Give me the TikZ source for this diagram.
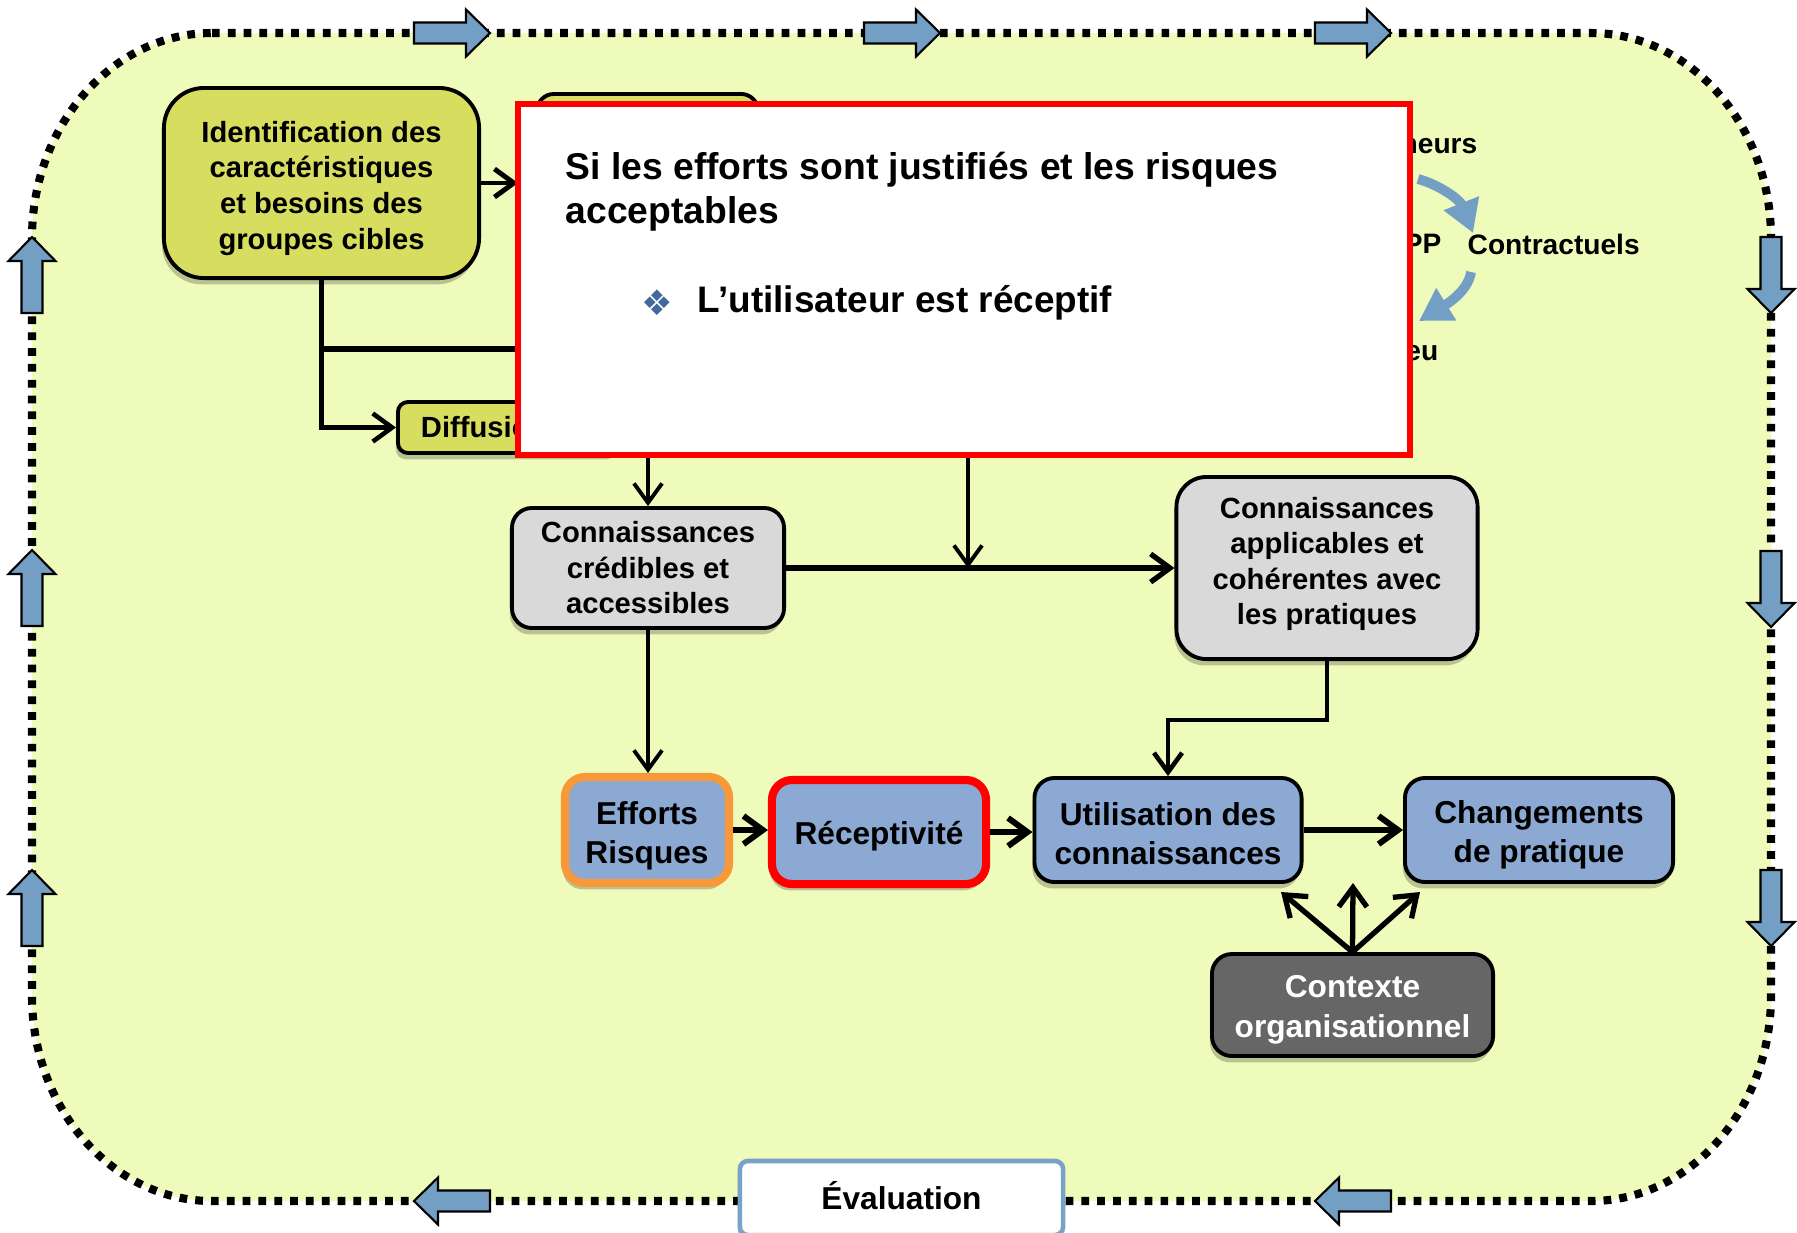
\documentclass[tikz,border=0pt]{standalone}
\usepackage{fontspec}
\setmainfont{Liberation Sans}
\newfontfamily\dejavu{DejaVu Sans}
\usetikzlibrary{arrows.meta,shadows}
\definecolor{bgc}{RGB}{238,251,186}
\definecolor{olive}{RGB}{215,221,94}
\definecolor{greybox}{RGB}{217,217,217}
\definecolor{bluebox}{RGB}{139,169,211}
\definecolor{blkblue}{RGB}{116,159,197}
\definecolor{orangeb}{RGB}{247,153,56}
\definecolor{redb}{RGB}{255,0,0}
\definecolor{darkbox}{RGB}{102,102,102}
\definecolor{evalblue}{RGB}{122,161,200}
\definecolor{bulletblue}{RGB}{65,105,155}
\begin{document}
\begin{tikzpicture}[x=0.01cm, y=-0.01cm,
  shadowed/.style={drop shadow={shadow xshift=-0.6pt, shadow yshift=-1.8pt, opacity=0.22, fill=black}},
  box/.style={draw=black, line width=1.1pt, rounded corners=0.2cm, align=center, inner sep=0pt, shadowed, font=\bfseries\fontsize{8.3}{10.1}\selectfont},
  olivebox/.style={box, fill=olive},
  greyb/.style={box, fill=greybox},
  blueb/.style={box, fill=bluebox, font=\bfseries\fontsize{9}{11.1}\selectfont},
  tup/.style={execute at end node={\rule[-#1]{0pt}{#1}}},
  arr/.style={-{Straight Barb[length=5.5pt,width=8pt]}, line width=1.1pt},
  harr/.style={arr, line width=1.7pt},
  sidetext/.style={font=\bfseries\fontsize{8}{9.6}\selectfont, inner sep=0pt},
  curvarrow/.style={draw=blkblue, line width=2.8pt, -{Triangle[length=0.32cm,width=0.36cm]}},
  blkarrow/.pic={\draw[fill=blkblue, line width=0.6pt, line join=miter] (-38,-10.5) -- (14,-10.5) -- (14,-23.5) -- (38,0) -- (14,23.5) -- (14,10.5) -- (-38,10.5) -- cycle;}
]
\useasboundingbox (0,0) rectangle (1797,1232);
\fill[white] (0,0) rectangle (1797,1232);

% background with dotted border
\path[fill=bgc, draw=black, line width=2.3pt, dash pattern=on 2.2pt off 2.3pt]
  (212,33) -- (1591,33) .. controls (1690,33) and (1771,125) .. (1771,238)
  -- (1771,996) .. controls (1771,1109) and (1690,1201) .. (1591,1201)
  -- (212,1201) .. controls (113,1201) and (32,1109) .. (32,996)
  -- (32,238) .. controls (32,125) and (113,33) .. cycle;

% block arrows on the border
\pic at (452,33) {blkarrow};
\pic at (902,33) {blkarrow};
\pic at (1353,33) {blkarrow};
\pic[rotate=180] at (452,1201) {blkarrow};
\pic[rotate=180] at (1353,1201) {blkarrow};
\pic[rotate=90] at (32,275) {blkarrow};
\pic[rotate=90] at (32,588) {blkarrow};
\pic[rotate=90] at (32,908) {blkarrow};
\pic[rotate=-90] at (1771,275) {blkarrow};
\pic[rotate=-90] at (1771,589) {blkarrow};
\pic[rotate=-90] at (1771,908) {blkarrow};

% nodes
\node[olivebox, rounded corners=0.4cm, minimum width=3.15cm, minimum height=1.9cm] (ident) at (321.5,183) {\rule{0pt}{9pt}Identification des\\caractéristiques\\et besoins des\\groupes cibles};
\node[olivebox, rounded corners=0.17cm, minimum width=2.21cm, minimum height=1.6cm] (hid) at (647.5,174) {};
\node[olivebox, rounded corners=0.1cm, anchor=west, minimum width=2.2cm, minimum height=0.51cm, text width=1.74cm, inner xsep=0.23cm, align=left] (diff) at (396,427.5) {Diffusion};
\node[greyb, minimum width=2.72cm, minimum height=1.2cm] (cred) at (648,568) {Connaissances\\crédibles et\\accessibles};
\node[greyb, tup=4pt, rounded corners=0.3cm, minimum width=3.01cm, minimum height=1.82cm] (appl) at (1327,568) {Connaissances\\applicables et\\cohérentes avec\\les pratiques};
\node[blueb, draw=orangeb, line width=2.3pt, minimum width=1.64cm, minimum height=1.06cm] (eff) at (647,830) {\rule{0pt}{10pt}Efforts\\Risques};
\node[blueb, draw=redb, line width=2.3pt, minimum width=2.14cm, minimum height=1.04cm] (rec) at (879,832) {\rule{0pt}{9pt}Réceptivité};
\node[blueb, minimum width=2.67cm, minimum height=1.04cm] (util) at (1168,830) {\rule{0pt}{8.6pt}Utilisation des\\connaissances};
\node[blueb, minimum width=2.68cm, minimum height=1.04cm] (chg) at (1539,830) {\rule{0pt}{9.3pt}Changements\\de pratique};
\node[blueb, fill=darkbox, text=white, minimum width=2.81cm, minimum height=1.02cm] (ctx) at (1352.5,1005) {\rule{0pt}{9pt}Contexte\\organisationnel};

% side texts partly hidden by the popup
\node[sidetext, anchor=east] (s1) at (1478,146.5) {neurs};
\node[sidetext, anchor=east] (s2) at (1442,244) {PP};
\node[sidetext, anchor=west] (s3) at (1467,244) {Contractuels};
\node[sidetext, anchor=east] (s4) at (1439,353.5) {eu};
\draw[curvarrow] (1418,179) .. controls (1440,185) and (1460,200) .. (1473,233);
\draw[curvarrow] (1471,272) .. controls (1468,292) and (1445,305) .. (1419,321);

% connectors
\coordinate (h1) at (648,420);
\coordinate (h2) at (968,420);
\coordinate (h3) at (620,349);
\coordinate (t1) at (1281,892);
\coordinate (t2) at (1353,883);
\coordinate (t3) at (1420,892);
\draw[arr, line width=1.4pt, shorten >=0.17cm] (ident.east) -- (ident.east -| hid.west);
\draw[arr, line width=1.3pt] (ident.south) |- (diff.west);
\draw[line width=1.5pt] (ident.south |- h3) -- (h3);
\draw[arr] (h1) -- (cred.north);
\draw[arr] (h2) -- (h2 |- cred.east);
\draw[arr, line width=1.5pt] (cred.east) -- (cred.east -| appl.west);
\draw[arr] (cred.south) -- (cred.south |- eff.north);
\draw[arr, line width=1.3pt] (appl.south) -- ++(0,59) -| (util.north);
\draw[harr] (eff.east) -- (eff.east -| rec.west);
\draw[harr] (rec.east) -- (rec.east -| util.west);
\draw[harr] (util.east) -- (util.east -| chg.west);
\draw[arr, line width=1.5pt] (ctx.north) -- (t1);
\draw[arr, line width=1.5pt] (ctx.north) -- (t2);
\draw[arr, line width=1.5pt] (ctx.north) -- (t3);

% popup
\node[draw=redb, fill=white, line width=1.6pt, minimum width=8.92cm, minimum height=3.51cm, inner sep=0pt] (popup) at (964,279.5) {};
\node[anchor=west, align=left, inner sep=0pt, font=\bfseries\fontsize{10.6}{12.5}\selectfont] (ptitle) at (565,191.5) {Si les efforts sont justifiés et les risques\\acceptables};
\node[inner sep=0pt, text=bulletblue, font=\dejavu\fontsize{10}{12}\selectfont] (bul) at (657,302.5) {❖};
\node[anchor=west, inner sep=0pt, font=\bfseries\fontsize{10.5}{12.5}\selectfont] (utxt) at (697,302.5) {L’utilisateur est réceptif};

% evaluation
\node[draw=evalblue, fill=white, line width=1.3pt, rounded corners=0.08cm, shadowed, tup=1.3pt, minimum width=3.23cm, minimum height=0.74cm, inner sep=0pt, font=\bfseries\fontsize{9}{11}\selectfont] (eval) at (901.5,1198) {Évaluation};
\end{tikzpicture}
\end{document}
